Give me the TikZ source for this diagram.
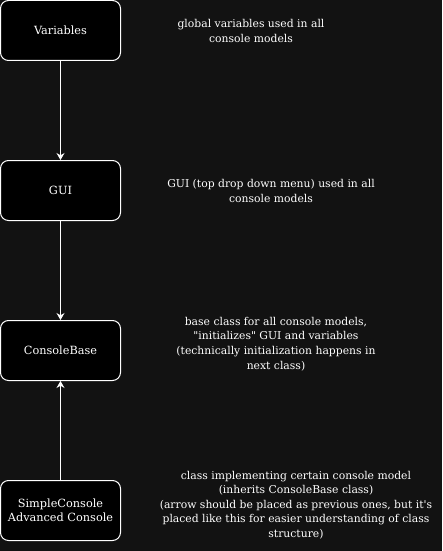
\documentclass[tikz,border=0pt]{standalone}
\usepackage{fontspec}
\setmainfont{DejaVu Serif}
\usetikzlibrary{arrows.meta}
\definecolor{pagebg}{HTML}{121212}
\begin{document}
\begin{tikzpicture}[x=1pt,y=-1pt,
  classbox/.style={draw=white,fill=black,rounded corners=8pt,line width=1pt,
    minimum width=120pt,minimum height=60pt,text=white,align=center,
    font=\fontsize{11.3}{14}\selectfont},
  note/.style={text=white,align=center,font=\fontsize{10.8}{14.6}\selectfont},
  link/.style={draw=white,line width=1pt,-{Stealth[length=7pt,width=8pt]}}]
\fill[color=pagebg] (0,0) rectangle (442,551);
\useasboundingbox (0,0) rectangle (442,551);
% Drawing class boxes
\node[classbox] (vars) at (60.5,30.5) {Variables};
\node[classbox] (gui) at (60.5,190.5) {GUI};
\node[classbox] (base) at (60.5,350.5) {ConsoleBase};
\node[classbox] (console) at (60.5,510.5) {SimpleConsole\\Advanced Console};
% Done with boxes; drawing arrows
\draw[link] (vars) -- (gui);
\draw[link] (gui) -- (base);
\draw[link] (console) -- (base);
% Done with arrows; drawing notes
\node[note] (varsnote) at (251,31) {global variables used in all\\console models};
\node[note] (guinote) at (271,191) {GUI (top drop down menu) used in all\\console models};
\node[note] (basenote) at (276,344) {base class for all console models,\\\textquotedbl initializes\textquotedbl{} GUI and variables\\(technically initialization happens in\\next class)};
\node[note] (consolenote) at (296,505) {class implementing certain console model\\(inherits ConsoleBase class)\\(arrow should be placed as previous ones, but it\textquotesingle s\\placed like this for easier understanding of class\\structure)};
% Done with notes
\end{tikzpicture}
\end{document}
